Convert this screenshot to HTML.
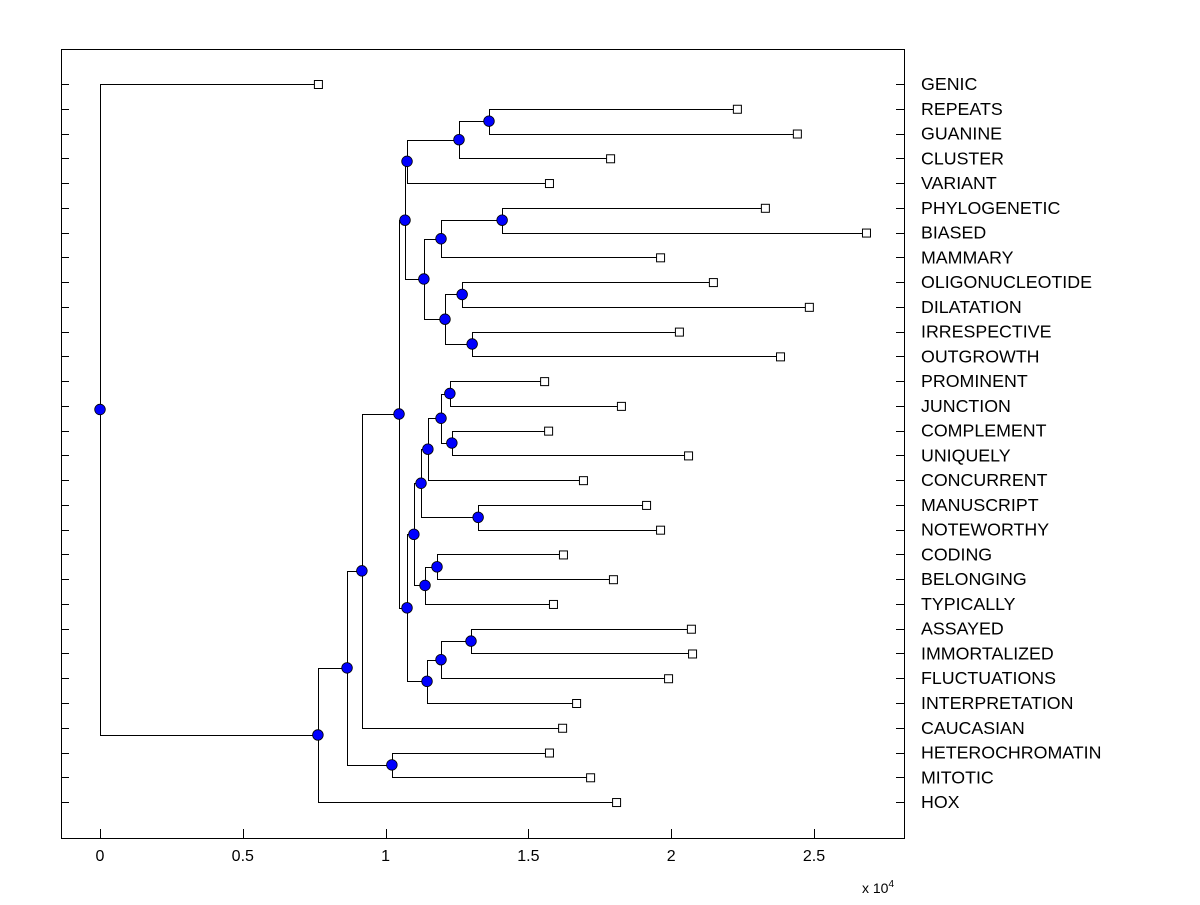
<!DOCTYPE html>
<html><head><meta charset="utf-8"><style>
body{margin:0;background:#fff;}
svg text{font-family:"Liberation Sans",Arial,sans-serif;}
</style></head><body>
<svg id="chart" width="1200" height="900" xmlns="http://www.w3.org/2000/svg">
<rect x="0" y="0" width="1200" height="900" fill="#fff"/>
<g id="plot"></g>
</svg>
<script>
const leafNames=["GENIC","REPEATS","GUANINE","CLUSTER","VARIANT","PHYLOGENETIC","BIASED","MAMMARY","OLIGONUCLEOTIDE","DILATATION","IRRESPECTIVE","OUTGROWTH","PROMINENT","JUNCTION","COMPLEMENT","UNIQUELY","CONCURRENT","MANUSCRIPT","NOTEWORTHY","CODING","BELONGING","TYPICALLY","ASSAYED","IMMORTALIZED","FLUCTUATIONS","INTERPRETATION","CAUCASIAN","HETEROCHROMATIN","MITOTIC","HOX"];
const leafHeights=[0.763,2.230,2.440,1.786,1.572,2.328,2.682,1.961,2.146,2.482,2.027,2.381,1.555,1.824,1.569,2.059,1.691,1.912,1.961,1.621,1.796,1.586,2.069,2.073,1.989,1.667,1.618,1.572,1.716,1.807];
const mergeLeft=[1,30,31,5,33,8,10,35,34,32,12,14,40,42,17,43,19,46,45,22,49,50,48,39,53,27,54,56,0];
const mergeRight=[2,3,4,6,7,9,11,36,37,38,13,15,41,16,18,44,20,21,47,23,24,25,51,52,26,28,55,29,57];
const mergeHeights=[1.362,1.257,1.075,1.408,1.194,1.268,1.303,1.208,1.134,1.068,1.225,1.232,1.194,1.148,1.324,1.124,1.180,1.138,1.099,1.299,1.194,1.145,1.075,1.047,0.917,1.022,0.865,0.763,0];
const xTicks=[0,0.5,1,1.5,2,2.5];
const xTickLabels=["0","0.5","1","1.5","2","2.5"];

const NS="http://www.w3.org/2000/svg";
const g=document.getElementById('plot');
const L=61,R=904,T=49,B=838;
const xs=v=>100+v*285.6;
const ys=i=>84+i*24.76;
function mk(t,a){const e=document.createElementNS(NS,t);for(const k in a)e.setAttribute(k,a[k]);g.appendChild(e);return e;}

const box=mk('rect',{x:L+0.5,y:T+0.5,width:R-L,height:B-T,fill:'none',stroke:'#000','stroke-width':1});



xTicks.forEach((v,i)=>{
  const t=mk('line',{x1:Math.round(xs(v))+0.5,x2:Math.round(xs(v))+0.5,y1:B,y2:B-9,stroke:'#000'});
  
  
  const l=mk('text',{x:xs(v),y:B+23,'text-anchor':'middle','font-size':16});
  l.textContent=xTickLabels[i];
  
  
});
const sc=mk('text',{x:862,y:893,'font-size':14});
sc.innerHTML='x 10<tspan dy="-6" font-size="10">4</tspan>';



const nodeX=[],nodeY=[];
leafNames.forEach((n,i)=>{
  nodeX[i]=xs(leafHeights[i]);nodeY[i]=ys(i);
  const yy=Math.round(ys(i))+0.5;
  const t1=mk('line',{x1:L,x2:L+8,y1:yy,y2:yy,stroke:'#000'});
  
  
  const t2=mk('line',{x1:R-8,x2:R,y1:yy,y2:yy,stroke:'#000'});
  
  
  const lb=mk('text',{x:921,y:ys(i)+6,'font-size':17.8});
  lb.textContent=n;
  
  
});
const dots=[];
mergeLeft.forEach((a,k)=>{
  const b=mergeRight[k];const id=30+k;
  const x=xs(mergeHeights[k]);
  nodeX[id]=x;nodeY[id]=(nodeY[a]+nodeY[b])/2;
  const px=Math.round(x)+0.5;
  const p=mk('path',{d:`M${nodeX[a]} ${Math.round(nodeY[a])+0.5}H${px}V${Math.round(nodeY[b])+0.5}H${nodeX[b]}`,fill:'none',stroke:'#000','stroke-width':1});
  
  
  dots.push(id);
});
leafNames.forEach((n,i)=>{
  const s=mk('rect',{x:nodeX[i]-3.5,y:nodeY[i]-3.5,width:8,height:8,fill:'#fff',stroke:'#000'});
  
  
});
dots.forEach(id=>{
  const c=mk('circle',{cx:nodeX[id],cy:nodeY[id],r:5.3,fill:'#0000ff',stroke:'#000','stroke-width':0.8});
  
  
});
</script>
</body></html>
